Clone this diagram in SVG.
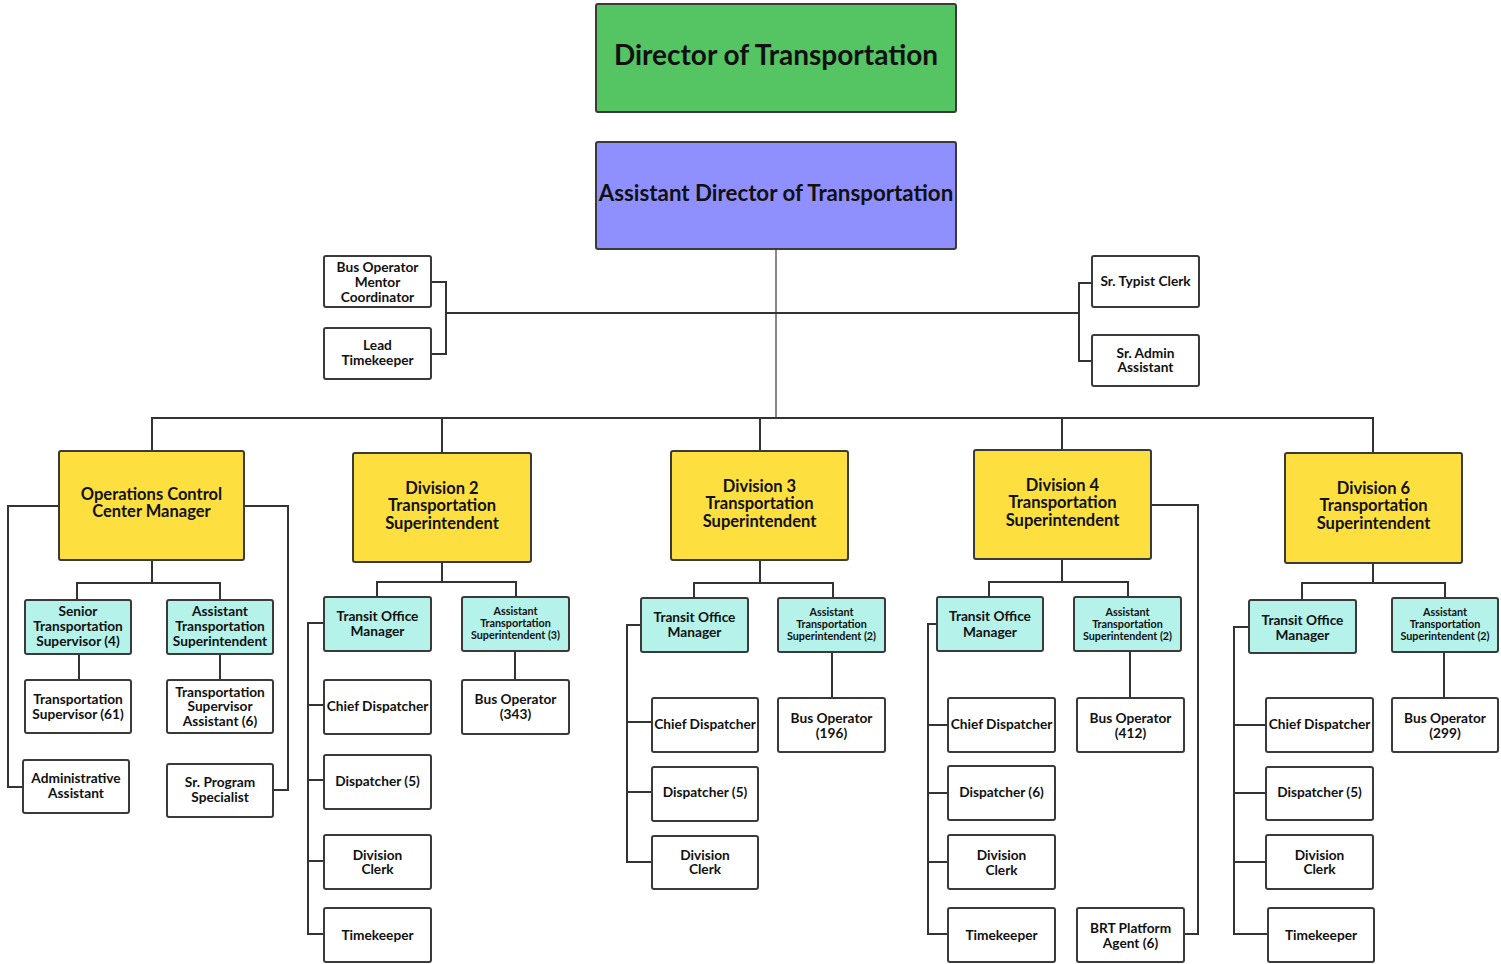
<svg xmlns="http://www.w3.org/2000/svg" width="1501" height="964" viewBox="0 0 1501 964">
<style>
rect{stroke:#3a3a3a;stroke-width:2}
.g{fill:#55c463}.p{fill:#8f8ffd}.y{fill:#fde03f}.c{fill:#b4f2ea}.w{fill:#ffffff}
text{font-family:Lato,"Liberation Sans",sans-serif;font-weight:bold;fill:#111;text-anchor:middle;dominant-baseline:central}
.t1{font-size:28px}.t2{font-size:22.3px}.t3{font-size:16.5px}.t4{font-size:13.7px}.t5{font-size:10.8px}
#conn path{fill:none;stroke:#333;stroke-width:2}
#conn path.l{stroke:#888}
</style>
<rect width="1501" height="964" fill="#fff" style="stroke:none"/>
<g id="conn">
<path class="l" d="M776 249V418"/>
<path d="M446 313H1079"/>
<path d="M431 282H446V354H431"/>
<path d="M1092 283H1079V361H1092"/>
<path d="M152 451V418H1373V453M442 418V453M760 418V451M1062 418V450"/>
<path d="M152 560V583M77 600V583H220V600M79 654V680M220 654V680"/>
<path d="M59 506H8V787H23M244 506H288V790H273"/>
<path d="M442 562V582M377 597V582H516V597M515 651V680"/>
<path d="M324 623H308V934H324M308 705H324M308 780H324M308 861H324"/>
<path d="M760 560V583M694 598V583H833V598M832 652V698"/>
<path d="M641 625H627V862H652M627 722H652M627 792H652"/>
<path d="M1062 559V582M989 597V582H1128V597M1130 651V698"/>
<path d="M937 624H928V934H948M928 725H948M928 793H948M928 862H948"/>
<path d="M1151 505H1198V934H1184"/>
<path d="M1373 563V583M1302 600V583H1445V598M1444 652V698"/>
<path d="M1249 627H1234V934H1268M1234 725H1266M1234 793H1266M1234 862H1266"/>
</g>
<g id="director"><rect class="g" x="596" y="4" width="360" height="108" rx="2"/><text class="t1" x="776" y="54">Director of Transportation</text></g>
<g id="asst-director"><rect class="p" x="596" y="142" width="360" height="107" rx="2"/><text class="t2" x="776" y="192">Assistant Director of Transportation</text></g>
<g id="bus-mentor"><rect class="w" x="324" y="256" width="107" height="51" rx="2"/><text class="t4" x="377.5" y="266">Bus Operator</text><text class="t4" x="377.5" y="281">Mentor</text><text class="t4" x="377.5" y="296">Coordinator</text></g>
<g id="lead-timekeeper"><rect class="w" x="324" y="328" width="107" height="51" rx="2"/><text class="t4" x="377.5" y="344">Lead</text><text class="t4" x="377.5" y="359">Timekeeper</text></g>
<g id="typist"><rect class="w" x="1092" y="256" width="107" height="51" rx="2"/><text class="t4" x="1145.5" y="280">Sr. Typist Clerk</text></g>
<g id="sr-admin"><rect class="w" x="1092" y="335" width="107" height="51" rx="2"/><text class="t4" x="1145.5" y="352">Sr. Admin</text><text class="t4" x="1145.5" y="366">Assistant</text></g>

<g id="occ"><rect class="y" x="59" y="451" width="185" height="109" rx="2"/><text class="t3" x="151.5" y="494">Operations Control</text><text class="t3" x="151.5" y="511">Center Manager</text></g>
<g id="occ-sts"><rect class="c" x="25" y="600" width="106" height="54" rx="2"/><text class="t4" x="78" y="610">Senior</text><text class="t4" x="78" y="625">Transportation</text><text class="t4" x="78" y="640">Supervisor (4)</text></g>
<g id="occ-ats"><rect class="c" x="167" y="600" width="106" height="54" rx="2"/><text class="t4" x="220" y="610">Assistant</text><text class="t4" x="220" y="625">Transportation</text><text class="t4" x="220" y="640">Superintendent</text></g>
<g id="occ-ts"><rect class="w" x="25" y="680" width="106" height="53" rx="2"/><text class="t4" x="78" y="698">Transportation</text><text class="t4" x="78" y="713">Supervisor (61)</text></g>
<g id="occ-tsa"><rect class="w" x="167" y="680" width="106" height="53" rx="2"/><text class="t4" x="220" y="691">Transportation</text><text class="t4" x="220" y="705">Supervisor</text><text class="t4" x="220" y="720">Assistant (6)</text></g>
<g id="occ-admin"><rect class="w" x="23" y="760" width="106" height="53" rx="2"/><text class="t4" x="76" y="777">Administrative</text><text class="t4" x="76" y="792">Assistant</text></g>
<g id="occ-sps"><rect class="w" x="167" y="764" width="106" height="53" rx="2"/><text class="t4" x="220" y="781">Sr. Program</text><text class="t4" x="220" y="796">Specialist</text></g>

<g id="div2"><rect class="y" x="353" y="453" width="178" height="109" rx="2"/><text class="t3" x="442" y="488">Division 2</text><text class="t3" x="442" y="505">Transportation</text><text class="t3" x="442" y="523">Superintendent</text></g>
<g id="div2-tom"><rect class="c" x="324" y="597" width="107" height="54" rx="2"/><text class="t4" x="377.5" y="615">Transit Office</text><text class="t4" x="377.5" y="630">Manager</text></g>
<g id="div2-ats"><rect class="c" x="462" y="597" width="107" height="54" rx="2"/><text class="t5" x="515.5" y="610">Assistant</text><text class="t5" x="515.5" y="622">Transportation</text><text class="t5" x="515.5" y="634">Superintendent (3)</text></g>
<g id="div2-bus"><rect class="w" x="462" y="680" width="107" height="54" rx="2"/><text class="t4" x="515.5" y="698">Bus Operator</text><text class="t4" x="515.5" y="713">(343)</text></g>
<g id="div2-chief"><rect class="w" x="324" y="680" width="107" height="54" rx="2"/><text class="t4" x="377.5" y="705">Chief Dispatcher</text></g>
<g id="div2-disp"><rect class="w" x="324" y="755" width="107" height="54" rx="2"/><text class="t4" x="377.5" y="780">Dispatcher (5)</text></g>
<g id="div2-clerk"><rect class="w" x="324" y="835" width="107" height="54" rx="2"/><text class="t4" x="377.5" y="854">Division</text><text class="t4" x="377.5" y="868">Clerk</text></g>
<g id="div2-tk"><rect class="w" x="324" y="908" width="107" height="54" rx="2"/><text class="t4" x="377.5" y="934">Timekeeper</text></g>

<g id="div3"><rect class="y" x="671" y="451" width="177" height="109" rx="2"/><text class="t3" x="759.5" y="486">Division 3</text><text class="t3" x="759.5" y="503">Transportation</text><text class="t3" x="759.5" y="521">Superintendent</text></g>
<g id="div3-tom"><rect class="c" x="641" y="598" width="107" height="54" rx="2"/><text class="t4" x="694.5" y="616">Transit Office</text><text class="t4" x="694.5" y="631">Manager</text></g>
<g id="div3-ats"><rect class="c" x="778" y="598" width="107" height="54" rx="2"/><text class="t5" x="831.5" y="611">Assistant</text><text class="t5" x="831.5" y="623">Transportation</text><text class="t5" x="831.5" y="635">Superintendent (2)</text></g>
<g id="div3-bus"><rect class="w" x="778" y="698" width="107" height="54" rx="2"/><text class="t4" x="831.5" y="717">Bus Operator</text><text class="t4" x="831.5" y="732">(196)</text></g>
<g id="div3-chief"><rect class="w" x="652" y="698" width="106" height="54" rx="2"/><text class="t4" x="705" y="723">Chief Dispatcher</text></g>
<g id="div3-disp"><rect class="w" x="652" y="767" width="106" height="54" rx="2"/><text class="t4" x="705" y="791">Dispatcher (5)</text></g>
<g id="div3-clerk"><rect class="w" x="652" y="836" width="106" height="53" rx="2"/><text class="t4" x="705" y="854">Division</text><text class="t4" x="705" y="868">Clerk</text></g>

<g id="div4"><rect class="y" x="974" y="450" width="177" height="109" rx="2"/><text class="t3" x="1062.5" y="485">Division 4</text><text class="t3" x="1062.5" y="502">Transportation</text><text class="t3" x="1062.5" y="520">Superintendent</text></g>
<g id="div4-tom"><rect class="c" x="937" y="597" width="106" height="54" rx="2"/><text class="t4" x="990" y="615">Transit Office</text><text class="t4" x="990" y="631">Manager</text></g>
<g id="div4-ats"><rect class="c" x="1074" y="597" width="107" height="54" rx="2"/><text class="t5" x="1127.5" y="611">Assistant</text><text class="t5" x="1127.5" y="623">Transportation</text><text class="t5" x="1127.5" y="635">Superintendent (2)</text></g>
<g id="div4-bus"><rect class="w" x="1077" y="698" width="107" height="54" rx="2"/><text class="t4" x="1130.5" y="717">Bus Operator</text><text class="t4" x="1130.5" y="732">(412)</text></g>
<g id="div4-chief"><rect class="w" x="948" y="698" width="107" height="54" rx="2"/><text class="t4" x="1001.5" y="723">Chief Dispatcher</text></g>
<g id="div4-disp"><rect class="w" x="948" y="766" width="107" height="54" rx="2"/><text class="t4" x="1001.5" y="791">Dispatcher (6)</text></g>
<g id="div4-clerk"><rect class="w" x="948" y="835" width="107" height="54" rx="2"/><text class="t4" x="1001.5" y="854">Division</text><text class="t4" x="1001.5" y="869">Clerk</text></g>
<g id="div4-tk"><rect class="w" x="948" y="908" width="107" height="54" rx="2"/><text class="t4" x="1001.5" y="934">Timekeeper</text></g>
<g id="div4-brt"><rect class="w" x="1077" y="908" width="107" height="54" rx="2"/><text class="t4" x="1130.5" y="927">BRT Platform</text><text class="t4" x="1130.5" y="942">Agent (6)</text></g>

<g id="div6"><rect class="y" x="1285" y="453" width="177" height="110" rx="2"/><text class="t3" x="1373.5" y="488">Division 6</text><text class="t3" x="1373.5" y="505">Transportation</text><text class="t3" x="1373.5" y="523">Superintendent</text></g>
<g id="div6-tom"><rect class="c" x="1249" y="600" width="107" height="53" rx="2"/><text class="t4" x="1302.5" y="619">Transit Office</text><text class="t4" x="1302.5" y="634">Manager</text></g>
<g id="div6-ats"><rect class="c" x="1392" y="598" width="106" height="54" rx="2"/><text class="t5" x="1445" y="611">Assistant</text><text class="t5" x="1445" y="623">Transportation</text><text class="t5" x="1445" y="635">Superintendent (2)</text></g>
<g id="div6-bus"><rect class="w" x="1392" y="698" width="106" height="54" rx="2"/><text class="t4" x="1445" y="717">Bus Operator</text><text class="t4" x="1445" y="732">(299)</text></g>
<g id="div6-chief"><rect class="w" x="1266" y="698" width="107" height="54" rx="2"/><text class="t4" x="1319.5" y="723">Chief Dispatcher</text></g>
<g id="div6-disp"><rect class="w" x="1266" y="767" width="107" height="53" rx="2"/><text class="t4" x="1319.5" y="791">Dispatcher (5)</text></g>
<g id="div6-clerk"><rect class="w" x="1266" y="835" width="107" height="54" rx="2"/><text class="t4" x="1319.5" y="854">Division</text><text class="t4" x="1319.5" y="868">Clerk</text></g>
<g id="div6-tk"><rect class="w" x="1268" y="908" width="106" height="54" rx="2"/><text class="t4" x="1321" y="934">Timekeeper</text></g>
</svg>
